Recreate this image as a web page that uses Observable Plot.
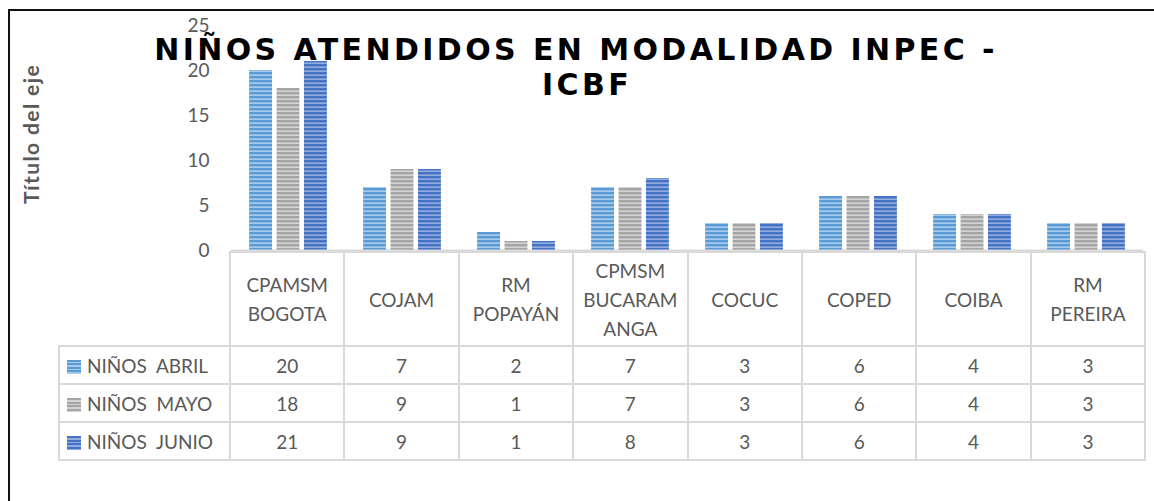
<!DOCTYPE html>
<html>
<head>
<meta charset="utf-8">
<script src="https://cdn.jsdelivr.net/npm/d3@7"></script>
<script src="https://cdn.jsdelivr.net/npm/@observablehq/plot@0.6"></script>
<style>
  html, body { margin: 0; padding: 0; background: #fff; }
  #wrap { position: relative; width: 1154px; height: 501px; overflow: hidden; font-family: Lato, sans-serif; color: #595959; }
  #frame { position: absolute; left: 8px; top: 9px; right: -10px; bottom: -10px; border-top: 2px solid #111; border-left: 2px solid #111; }
  #chart { position: absolute; left: 0; top: 0; }
  .title { position: absolute; left: 0; width: 1152px; text-align: center; font-family: "DejaVu Sans", sans-serif; font-weight: bold; font-size: 30px; line-height: 20px; letter-spacing: 3.4px; color: #000; white-space: nowrap; }
  #title1 { top: 39.6px; }
  #title2 { top: 74.6px; left: 11px; }
  #ylabel { position: absolute; left: 30px; top: 134px; transform: translate(-50%, -50%) rotate(-90deg); font-weight: bold; font-size: 21px; letter-spacing: 1.4px; white-space: nowrap; color: #595959; }
  #table { position: absolute; left: 58px; top: 251px; border-collapse: collapse; table-layout: fixed; font-size: 19px; color: #595959; }
  #table td { border: 2px solid #d9d9d9; text-align: center; padding: 0; }
  #table td.corner { border: none; }
  #table tr.head td { height: 92px; white-space: pre-line; line-height: 29px; }
  #table tr.row td { height: 36px; }
  #table td.leg { text-align: left; padding-left: 7px; white-space: pre; }
  .sw { display: inline-block; width: 14px; height: 14px; margin-right: 6px; vertical-align: -1px; }
</style>
</head>
<body>
<div id="wrap">
  <div id="frame"></div>
  <div id="chart"></div>
  <div class="title" id="title1">NIÑOS ATENDIDOS EN MODALIDAD INPEC -</div>
  <div class="title" id="title2">ICBF</div>
  <div id="ylabel">Título del eje</div>
  <table id="table"></table>
</div>
<script>
// ---- Data ----
const categories = ["CPAMSM BOGOTA", "COJAM", "RM POPAYÁN", "CPMSM BUCARAMANGA", "COCUC", "COPED", "COIBA", "RM PEREIRA"];
const categoryLabels = ["CPAMSM\nBOGOTA", "COJAM", "RM\nPOPAYÁN", "CPMSM\nBUCARAM\nANGA", "COCUC", "COPED", "COIBA", "RM\nPEREIRA"];
const seriesNames = ["NIÑOS  ABRIL", "NIÑOS  MAYO", "NIÑOS  JUNIO"];
const abril = [20, 7, 2, 7, 3, 6, 4, 3];
const mayo = [18, 9, 1, 7, 3, 6, 4, 3];
const junio = [21, 9, 1, 8, 3, 6, 4, 3];
const yTicks = [0, 5, 10, 15, 20, 25];

// ---- Styles ----
const seriesDark = ["#5B9BD5", "#A5A5A5", "#4472C4"];
const seriesLight = ["#A7CBEC", "#D3D3D3", "#93ACDD"];
const patternIds = ["pat-abril", "pat-mayo", "pat-junio"];

const seriesValues = [abril, mayo, junio];
const data = [];
categories.forEach((c, i) => {
  seriesNames.forEach((s, j) => {
    data.push({cat: c, series: s, value: seriesValues[j][i]});
  });
});

const plot = Plot.plot({
  width: 1154,
  height: 252,
  marginTop: 25,
  marginBottom: 2,
  marginLeft: 229,
  marginRight: 10,
  style: {fontFamily: "Lato, sans-serif", fontSize: "19px", color: "#595959", background: "transparent", overflow: "visible"},
  fx: {domain: categories, padding: 0, axis: null},
  x: {domain: seriesNames, paddingInner: 0.164, paddingOuter: 0.66, axis: null, round: false},
  y: {domain: [0, 25], ticks: yTicks, tickSize: 0, tickPadding: 22, label: null},
  color: {domain: seriesNames, range: patternIds.map(id => `url(#${id})`)},
  marks: [
    Plot.barY(data, {fx: "cat", x: "series", y: "value", fill: "series"}),
    Plot.ruleY([0], {stroke: "#d9d9d9", strokeWidth: 2})
  ]
});

// pattern defs
const defs = d3.select(plot).insert("defs", ":first-child");
patternIds.forEach((id, j) => {
  const p = defs.append("pattern").attr("id", id).attr("patternUnits", "userSpaceOnUse")
    .attr("width", 4).attr("height", 4);
  p.append("rect").attr("width", 4).attr("height", 4).attr("fill", seriesLight[j]);
  p.append("rect").attr("width", 4).attr("height", 2.4).attr("fill", seriesDark[j]);
});
document.getElementById("chart").appendChild(plot);

// ---- Data table (legend + category axis) ----
const table = d3.select("#table");
const colgroup = table.append("colgroup");
colgroup.append("col").style("width", "171px");
categories.forEach(() => colgroup.append("col").style("width", "114.4px"));
const head = table.append("tr").attr("class", "head");
head.append("td").attr("class", "corner");
categoryLabels.forEach(l => head.append("td").text(l));
seriesNames.forEach((s, j) => {
  const tr = table.append("tr").attr("class", "row");
  const td = tr.append("td").attr("class", "leg");
  td.append("span").attr("class", "sw")
    .style("background", `repeating-linear-gradient(to bottom, ${seriesDark[j]} 0px, ${seriesDark[j]} 2px, ${seriesLight[j]} 2px, ${seriesLight[j]} 3.5px)`);
  td.append("span").text(s);
  seriesValues[j].forEach(v => tr.append("td").text(v));
});
</script>
</body>
</html>
